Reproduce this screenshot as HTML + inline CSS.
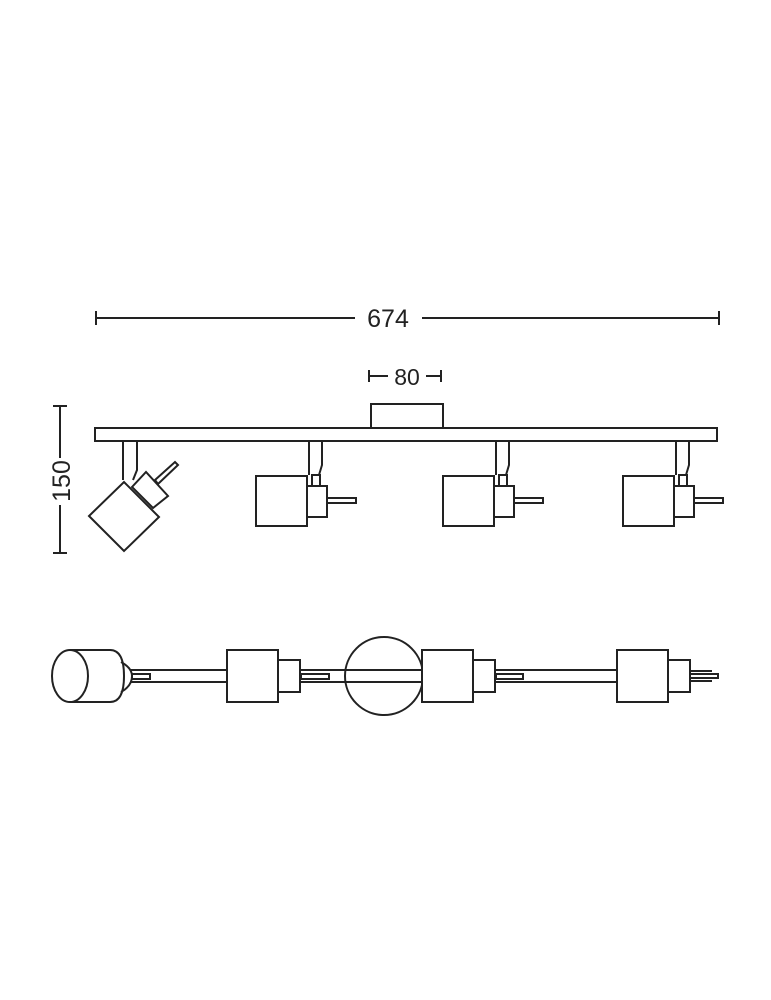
<!DOCTYPE html>
<html><head><style>body{margin:0;background:#fff}svg{display:block}</style></head><body>
<svg width="771" height="1000" viewBox="0 0 771 1000" xmlns="http://www.w3.org/2000/svg">
<g fill="none" stroke="#222" stroke-width="2">
<!-- 674 dim -->
<line x1="96" y1="318" x2="355" y2="318"/><line x1="422" y1="318" x2="719" y2="318"/>
<line x1="96" y1="311" x2="96" y2="325"/><line x1="719" y1="311" x2="719" y2="325"/>
<!-- 80 dim -->
<line x1="369" y1="376" x2="388" y2="376"/><line x1="426" y1="376" x2="441" y2="376"/>
<line x1="369" y1="370" x2="369" y2="382"/><line x1="441" y1="370" x2="441" y2="382"/>
<!-- 150 dim -->
<line x1="60" y1="406" x2="60" y2="458"/><line x1="60" y1="505" x2="60" y2="553"/>
<line x1="53" y1="406" x2="67" y2="406"/><line x1="53" y1="553" x2="67" y2="553"/>
<!-- mount & bar -->
<rect x="371" y="404" width="72" height="24"/>
<rect x="95" y="428" width="622" height="13"/>
<!-- spot1 tilted -->
<path d="M123 441 V480 M137 441 V470 L133 480"/>
<polygon points="89,516 124,551 159,517 124,482"/>
<polygon points="132,487 146,472 168,496 153,508"/>
<polygon points="155,480 175,462 178,465 158,484"/>
<!-- spots 2-4 -->
<g id="s">
<path d="M309 441 V475 M322 441 V465 L319 475"/>
<rect x="312" y="475" width="8" height="11"/>
<rect x="256" y="476" width="51" height="50"/>
<rect x="307" y="486" width="20" height="31"/>
<rect x="327" y="498" width="29" height="5"/>
</g>
<use href="#s" x="187"/>
<use href="#s" x="367"/>
<!-- bottom view -->
<line x1="130" y1="670" x2="227" y2="670"/><line x1="130" y1="682" x2="227" y2="682"/>
<line x1="300" y1="670" x2="422" y2="670"/><line x1="300" y1="682" x2="422" y2="682"/>
<line x1="495" y1="670" x2="617" y2="670"/><line x1="495" y1="682" x2="617" y2="682"/>
<rect x="132" y="674" width="18" height="5"/>
<rect x="301" y="674" width="28" height="5"/>
<rect x="496" y="674" width="27" height="5"/>
<path d="M70 650 H110 Q124 650 124 676 Q124 702 110 702 H70"/>
<path d="M121 662 Q132 668 132 676 Q132 686 121 692"/>
<ellipse cx="70" cy="676" rx="18" ry="26"/>
<circle cx="384" cy="676" r="39"/>
<rect x="227" y="650" width="51" height="52" fill="#fff"/>
<rect x="278" y="660" width="22" height="32" fill="#fff"/>
<rect x="422" y="650" width="51" height="52" fill="#fff"/>
<rect x="473" y="660" width="22" height="32" fill="#fff"/>
<rect x="617" y="650" width="51" height="52"/>
<rect x="668" y="660" width="22" height="32"/>
<path d="M690 671 H712 M690 681 H712 M690 674 H718 V678 H690"/>
</g>
<g font-family="Liberation Sans, sans-serif" fill="#222">
<text x="388" y="327" font-size="25" text-anchor="middle">674</text>
<text x="407" y="385" font-size="23" text-anchor="middle">80</text>
<text transform="translate(70,481) rotate(-90)" font-size="25" text-anchor="middle">150</text>
</g>
</svg>
</body></html>
